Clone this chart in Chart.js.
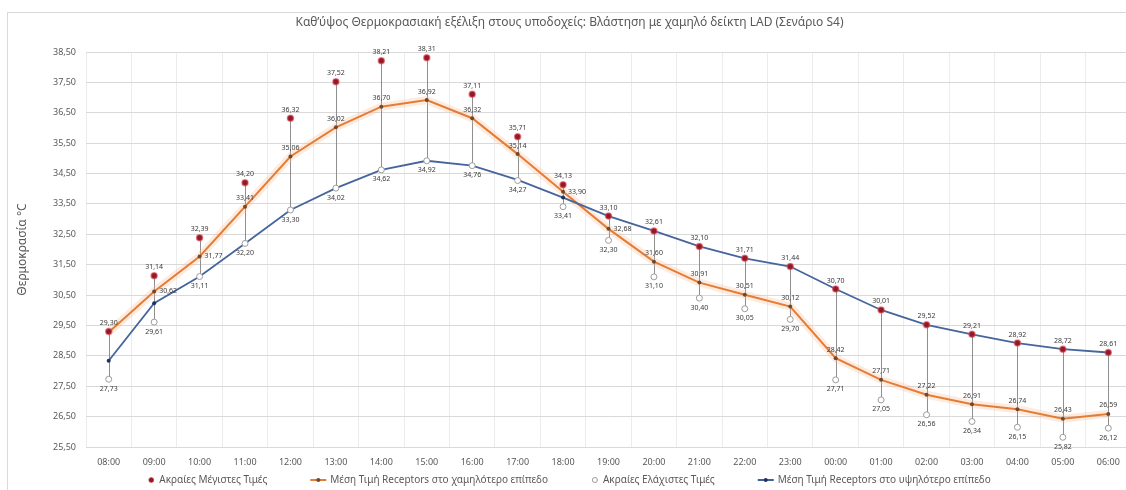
<!DOCTYPE html>
<html>
<head>
<meta charset="utf-8">
<script src="https://cdn.jsdelivr.net/npm/chart.js@4/dist/chart.umd.min.js"></script>
<style>
  html, body { margin: 0; padding: 0; background: #fff; width: 1126px; height: 490px; overflow: hidden; }
  #frame { position: absolute; left: 7px; top: 12px; width: 1140px; height: 490px; border: 1px solid #d9d9d9; box-sizing: border-box; background: #fff; }
  #chart { display: block; }
</style>
</head>
<body>
<div id="frame"><canvas id="chart" width="1138" height="477"></canvas></div>
<script>
// Hourly temperatures at the receptors (°C)
const hours = ['08:00', '09:00', '10:00', '11:00', '12:00', '13:00', '14:00', '15:00', '16:00', '17:00', '18:00', '19:00',
               '20:00', '21:00', '22:00', '23:00', '00:00', '01:00', '02:00', '03:00', '04:00', '05:00', '06:00'];
const extremeMax = [29.30, 31.14, 32.39, 34.20, 36.32, 37.52, 38.21, 38.31, 37.11, 35.71, 34.13, 33.10,
                    32.61, 32.10, 31.71, 31.44, 30.70, 30.01, 29.52, 29.21, 28.92, 28.72, 28.61];
const meanLower  = [29.28, 30.62, 31.77, 33.41, 35.06, 36.02, 36.70, 36.92, 36.32, 35.14, 33.90, 32.68,
                    31.60, 30.91, 30.51, 30.12, 28.42, 27.71, 27.22, 26.91, 26.74, 26.43, 26.59];
const extremeMin = [27.73, 29.61, 31.11, 32.20, 33.30, 34.02, 34.62, 34.92, 34.76, 34.27, 33.41, 32.30,
                    31.10, 30.40, 30.05, 29.70, 27.71, 27.05, 26.56, 26.34, 26.15, 25.82, 26.12];
const meanUpper  = [28.34, 30.23, 31.11, 32.20, 33.30, 34.02, 34.62, 34.92, 34.76, 34.29, 33.71, 33.10,
                    32.61, 32.10, 31.71, 31.44, 30.70, 30.01, 29.52, 29.21, 28.92, 28.72, 28.61];
const yMin = 25.5, yMax = 38.5, yStep = 1;

const titleText = 'Καθ\u2019ύψος Θερμοκρασιακή εξέλιξη στους υποδοχείς: Βλάστηση με χαμηλό δείκτη LAD (Σενάριο S4)';
const yTitle = 'Θερμοκρασία °C';
const seriesNames = ['Ακραίες Μέγιστες Τιμές', 'Μέση Τιμή Receptors στο χαμηλότερο επίπεδο',
                     'Ακραίες Ελάχιστες Τιμές', 'Μέση Τιμή Receptors στο υψηλότερο επίπεδο'];

const FONT = "'Noto Sans', 'DejaVu Sans', sans-serif";
const TEXT = '#595959';
const fmt = v => v.toFixed(2).replace('.', ',');

// where each value label sits relative to its point
const lowerLabelPos = ['none', 'right', 'right', 'top', 'top', 'top', 'top', 'top', 'top', 'top', 'right', 'right',
                       'top', 'top', 'top', 'top', 'top', 'top', 'top', 'top', 'top', 'top', 'top'];

// vertical high–low line through all series at every hour
const highLowLines = {
  id: 'highLowLines',
  beforeDatasetsDraw(chart) {
    const { ctx, scales: { x, y } } = chart;
    ctx.save();
    ctx.strokeStyle = '#8f8f8f';
    ctx.lineWidth = 1;
    hours.forEach((h, i) => {
      const vals = [extremeMax[i], meanLower[i], extremeMin[i], meanUpper[i]];
      const px = Math.round(x.getPixelForValue(i)) + 0.5;
      ctx.beginPath();
      ctx.moveTo(px, y.getPixelForValue(Math.max(...vals)));
      ctx.lineTo(px, y.getPixelForValue(Math.min(...vals)));
      ctx.stroke();
    });
    ctx.restore();
  }
};

// value labels next to the points
const valueLabels = {
  id: 'valueLabels',
  afterDatasetsDraw(chart) {
    const { ctx } = chart;
    ctx.save();
    ctx.font = '7px ' + FONT;
    ctx.fillStyle = '#3a3a3a';
    const put = (dsIndex, posFor) => {
      const ds = chart.data.datasets[dsIndex];
      chart.getDatasetMeta(dsIndex).data.forEach((pt, i) => {
        const pos = posFor(i);
        if (pos === 'none') return;
        const t = fmt(ds.data[i]);
        if (pos === 'top') { ctx.textAlign = 'center'; ctx.textBaseline = 'bottom'; ctx.fillText(t, pt.x, pt.y - 5); }
        else if (pos === 'bottom') { ctx.textAlign = 'center'; ctx.textBaseline = 'top'; ctx.fillText(t, pt.x, pt.y + 6); }
        else if (pos === 'right') { ctx.textAlign = 'left'; ctx.textBaseline = 'middle'; ctx.fillText(t, pt.x + 5, pt.y); }
      });
    };
    put(0, () => 'top');
    put(1, i => lowerLabelPos[i]);
    put(2, () => 'bottom');
    ctx.restore();
  }
};

// legend row under the axis
const legendRow = {
  id: 'legendRow',
  afterDraw(chart) {
    const { ctx, width } = chart;
    const yc = 467;
    const gap = 43;
    const kinds = [
      { sym: 'dot', w: 8 },
      { sym: 'line', w: 16, color: '#E57C35', dot: '#6B4A32' },
      { sym: 'ring', w: 8 },
      { sym: 'line', w: 16, color: '#40609A', dot: '#1F3360' }
    ];
    ctx.save();
    ctx.font = '10px ' + FONT;
    const widths = seriesNames.map((n, i) => kinds[i].w + 4 + ctx.measureText(n).width);
    const total = widths.reduce((a, b) => a + b, 0) + gap * (widths.length - 1);
    let x = width / 2 - total / 2 - 8;
    seriesNames.forEach((name, i) => {
      const k = kinds[i];
      const cx = x + k.w / 2;
      if (k.sym === 'dot') {
        ctx.beginPath(); ctx.arc(cx, yc, 2.5, 0, Math.PI * 2);
        ctx.fillStyle = '#8E1A2A'; ctx.fill();
        ctx.lineWidth = 1; ctx.strokeStyle = 'rgba(225,70,80,0.6)'; ctx.stroke();
      } else if (k.sym === 'ring') {
        ctx.beginPath(); ctx.arc(cx, yc, 2.5, 0, Math.PI * 2);
        ctx.fillStyle = '#fff'; ctx.fill();
        ctx.lineWidth = 1; ctx.strokeStyle = '#9C9C9C'; ctx.stroke();
      } else {
        ctx.beginPath(); ctx.moveTo(x, yc); ctx.lineTo(x + k.w, yc);
        ctx.lineWidth = 2; ctx.strokeStyle = k.color; ctx.stroke();
        ctx.beginPath(); ctx.arc(cx, yc, 2, 0, Math.PI * 2);
        ctx.fillStyle = k.dot; ctx.fill();
      }
      ctx.fillStyle = TEXT;
      ctx.textAlign = 'left';
      ctx.textBaseline = 'middle';
      ctx.fillText(name, x + k.w + 4, yc);
      x += widths[i] + gap;
    });
    ctx.restore();
  }
};

new Chart(document.getElementById('chart'), {
  type: 'line',
  data: {
    labels: hours,
    datasets: [
      { label: seriesNames[0], data: extremeMax, showLine: false, order: 0,
        pointRadius: 3, pointHoverRadius: 3, pointBackgroundColor: '#8E1A2A',
        pointBorderColor: 'rgba(225,70,80,0.6)', pointBorderWidth: 1.5 },
      { label: seriesNames[1], data: meanLower, order: 3, borderColor: '#E57C35', borderWidth: 2,
        pointRadius: 2, pointBackgroundColor: '#6B4A32', pointBorderColor: '#6B4A32', pointBorderWidth: 0 },
      { label: seriesNames[2], data: extremeMin, showLine: false, order: 1,
        pointRadius: 3, pointBackgroundColor: '#ffffff', pointBorderColor: '#9C9C9C', pointBorderWidth: 1 },
      { label: seriesNames[3], data: meanUpper, order: 2, borderColor: '#45659C', borderWidth: 1.8,
        pointRadius: 2, pointBackgroundColor: '#1F3360', pointBorderColor: '#1F3360', pointBorderWidth: 0 },
      // soft halo under the lower-level line
      { label: 'halo', data: meanLower, order: 10, borderColor: 'rgba(247,190,150,0.3)', borderWidth: 8,
        pointRadius: 0 }
    ]
  },
  options: {
    responsive: false,
    animation: false,
    events: [],
    layout: { padding: { left: 0, right: 15, top: 0, bottom: 21 } },
    plugins: {
      legend: { display: false },
      tooltip: { enabled: false },
      title: {
        display: true, text: titleText, color: TEXT,
        font: { family: FONT, size: 12, weight: 'normal' },
        padding: { top: 2, bottom: 22.6 }
      }
    },
    scales: {
      x: {
        offset: true,
        grid: { offset: true, color: '#ececec', drawTicks: false, tickLength: 0 },
        border: { display: true, color: '#d9d9d9' },
        ticks: { color: TEXT, font: { family: FONT, size: 9 }, padding: 10, maxRotation: 0, autoSkip: false },
        afterFit: s => { s.height = 22; }
      },
      y: {
        min: yMin, max: yMax,
        grid: { color: '#d9d9d9', drawTicks: false, tickLength: 0 },
        border: { display: false },
        ticks: { stepSize: yStep, callback: v => fmt(v), color: TEXT, font: { family: FONT, size: 9 }, padding: 10 },
        title: { display: true, text: yTitle, color: TEXT, font: { family: FONT, size: 12 }, padding: { top: 7, bottom: 0 } },
        afterFit: s => { s.width = 78; }
      }
    }
  },
  plugins: [highLowLines, valueLabels, legendRow]
});
</script>
</body>
</html>
